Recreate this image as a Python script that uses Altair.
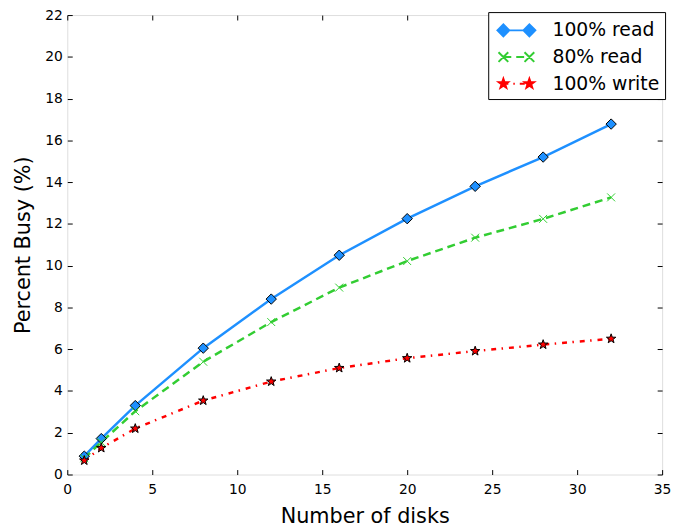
import math
import altair as alt
import pandas as pd

# ---------------- data ----------------
disks = [1, 2, 4, 8, 12, 16, 20, 24, 28, 32]
read100 = [0.88, 1.72, 3.3, 6.05, 8.4, 10.5, 12.25, 13.8, 15.2, 16.78]
read80 = [0.78, 1.55, 3.03, 5.4, 7.3, 8.95, 10.22, 11.34, 12.24, 13.27]
write100 = [0.67, 1.27, 2.2, 3.54, 4.45, 5.1, 5.57, 5.91, 6.22, 6.5]
series_names = ["100% read", "80% read", "100% write"]
colors = ["#1E90FF", "#32CD32", "#FF0000"]
x_ticks = [0, 5, 10, 15, 20, 25, 30, 35]
y_ticks = [0, 2, 4, 6, 8, 10, 12, 14, 16, 18, 20, 22]

rows = []
for name, vals in zip(series_names, [read100, read80, write100]):
    for d, v in zip(disks, vals):
        rows.append({"disks": d, "busy": v, "series": name})
df = pd.DataFrame(rows)

FONT = "DejaVu Sans"


# ---------------- marker paths ----------------
def star_pts(cx, cy, R, r):
    pts = []
    for k in range(10):
        ang = math.radians(-90 + 36 * k)
        rad = R if k % 2 == 0 else r
        pts.append((cx + rad * math.cos(ang), cy + rad * math.sin(ang)))
    return "M" + "L".join(f"{x:.3f},{y:.3f}" for x, y in pts) + "Z"


def diamond(cx, h):
    return f"M{cx - h:.3f},0L{cx:.3f},{-h:.3f}L{cx + h:.3f},0L{cx:.3f},{h:.3f}Z"


def xmark(cx, h):
    return (f"M{cx - h:.3f},{-h:.3f}L{cx + h:.3f},{h:.3f}"
            f"M{cx - h:.3f},{h:.3f}L{cx + h:.3f},{-h:.3f}")


STAR = star_pts(0, 0, 1, 0.4)
XPATH = "M-1,-1L1,1M-1,1L1,-1"

# legend symbols
C = 1.07
leg_blue = f"M{-C},0H{C}" + diamond(-C, 0.49) + diamond(C, 0.49)
leg_green = ("M-1.07,0H-0.42M-0.01,0H0.64M1.0,0H1.07"
             + xmark(-C, 0.4) + xmark(C, 0.4))
leg_red = ("M-1.07,0H-0.66M-0.25,0H-0.13M0.28,0H0.69"
           + star_pts(-C, 0, 0.4, 0.16) + star_pts(C, 0, 0.4, 0.16))
legend_paths = [leg_blue, leg_green, leg_red]

# ---------------- scales / axes ----------------
xs = alt.Scale(domain=[0, 35], nice=False, zero=False)
ys = alt.Scale(domain=[0, 22], nice=False, zero=False)

common_axis = dict(domain=False, grid=False, tickSize=5, offset=-5,
                   tickColor="black", tickWidth=1, labelFlush=False,
                   labelOverlap=False, labelFont=FONT, labelFontSize=14,
                   labelFontWeight="normal",
                   labelColor="black", titleFont=FONT, titleFontSize=21,
                   titleFontWeight="normal", titleColor="black")

x_bottom = alt.X("disks:Q", scale=xs,
                 axis=alt.Axis(orient="bottom", values=x_ticks, title="Number of disks",
                               labelPadding=8, titlePadding=10, **common_axis))
y_left = alt.Y("busy:Q", scale=ys,
               axis=alt.Axis(orient="left", values=y_ticks, title="Percent Busy (%)",
                             labelPadding=5, titlePadding=11, **common_axis))

inner_axis = dict(domain=False, grid=False, tickSize=5, offset=-5,
                  tickColor="black", tickWidth=1, labels=False, title=None)
x_top = alt.X("disks:Q", scale=xs, axis=alt.Axis(orient="top", values=x_ticks, **inner_axis))
y_right = alt.Y("busy:Q", scale=ys, axis=alt.Axis(orient="right", values=y_ticks, **inner_axis))
x_none = alt.X("disks:Q", scale=xs, axis=None)
y_none = alt.Y("busy:Q", scale=ys, axis=None)

base = alt.Chart(df)

dash_styles = [None, [8, 5], [5, 5.5, 1.5, 6]]
axis_pairs = [(x_bottom, y_left), (x_top, y_right), (x_none, y_none)]
layers = []
for i, (name, col) in enumerate(zip(series_names, colors)):
    kw = dict(color=col, strokeWidth=2.5, clip=False)
    if dash_styles[i]:
        kw["strokeDash"] = dash_styles[i]
    ex, ey = axis_pairs[i]
    layers.append(base.transform_filter(alt.datum.series == name)
                  .mark_line(**kw).encode(x=ex, y=ey))

pt_blue = base.transform_filter(alt.datum.series == series_names[0]).mark_point(
    shape="diamond", size=110, filled=True, fill=colors[0], stroke="black",
    strokeWidth=1, opacity=1).encode(x=x_none, y=y_none)
pt_green = base.transform_filter(alt.datum.series == series_names[1]).mark_point(
    shape=XPATH, size=64, filled=False, stroke=colors[1],
    strokeWidth=1, opacity=1).encode(x=x_none, y=y_none)
pt_red = base.transform_filter(alt.datum.series == series_names[2]).mark_point(
    shape=STAR, size=100, filled=True, fill=colors[2], stroke="black",
    strokeWidth=1, opacity=1).encode(x=x_none, y=y_none)

leg = alt.Legend(title=None, orient="none", legendX=426, legendY=-3, padding=5,
                 strokeColor="black", fillColor="white", cornerRadius=0,
                 labelFont=FONT, labelFontSize=19, labelColor="black",
                 symbolSize=605, symbolStrokeWidth=2, symbolOffset=10,
                 labelOffset=23, rowPadding=3, symbolOpacity=1)
leg_layer = base.mark_point(size=0, opacity=1, filled=True).encode(
    x=x_none, y=y_none,
    shape=alt.Shape("series:N", scale=alt.Scale(domain=series_names, range=legend_paths),
                    legend=leg),
    fill=alt.Fill("series:N", scale=alt.Scale(domain=series_names, range=colors), legend=leg),
    stroke=alt.Stroke("series:N", scale=alt.Scale(domain=series_names, range=colors), legend=leg),
)

chart = alt.layer(*layers, pt_blue, pt_green, pt_red, leg_layer).resolve_axis(
    x="independent", y="independent"
).properties(
    width=602, height=465,
    padding={"left": 60, "top": 4, "right": 10, "bottom": 52},
    autosize=alt.AutoSizeParams(type="none"),
).configure_view(stroke="black", strokeWidth=1).configure(background="white")

chart.save("out.html", embed_options={"renderer": "svg", "actions": False})
